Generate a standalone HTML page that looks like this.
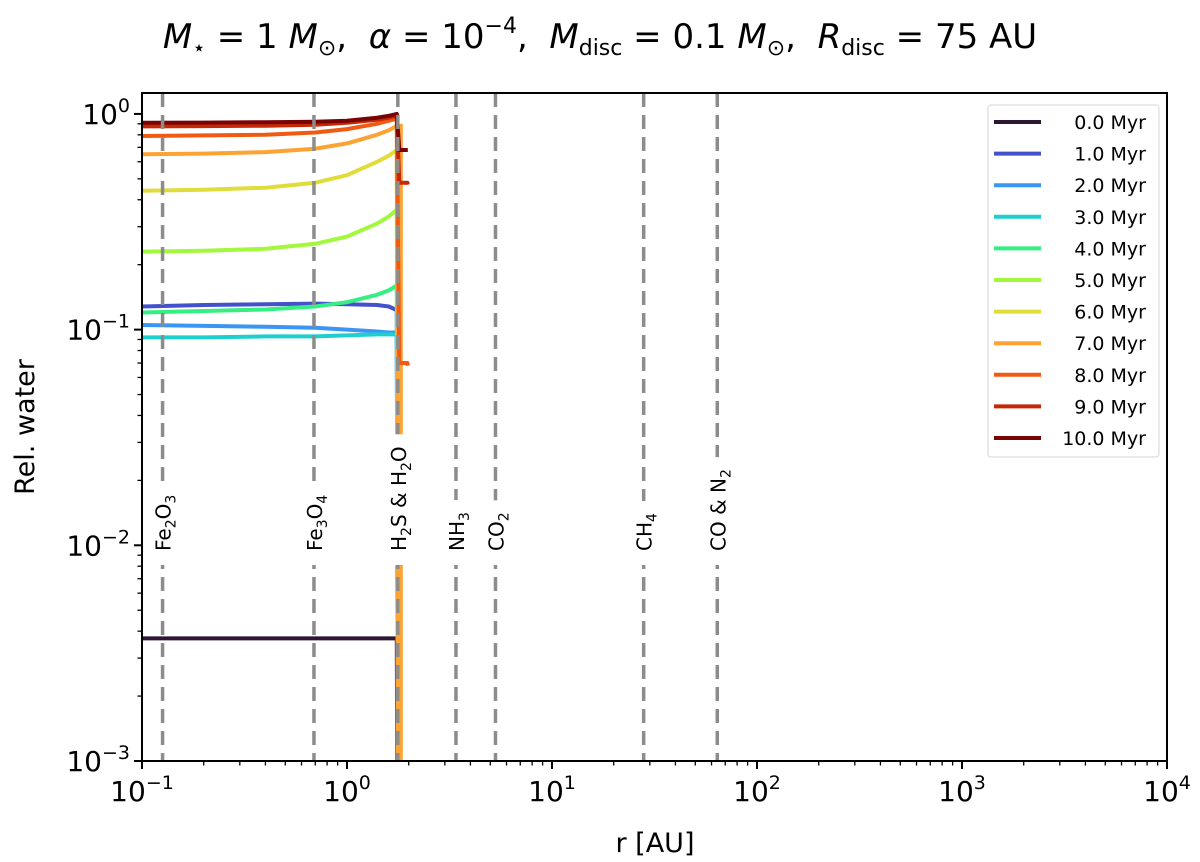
<!DOCTYPE html>
<html><head><meta charset="utf-8"><style>
html,body{margin:0;padding:0;background:#fff;overflow:hidden;width:1200px;height:862px}
svg{display:block}
svg text{font-family:"DejaVu Sans","Liberation Sans",sans-serif}
</style></head><body>
<svg id="chart" width="1200" height="862" viewBox="0 0 1200 862" xmlns="http://www.w3.org/2000/svg">
<defs><clipPath id="clip"><rect x="142" y="93" width="1025" height="668"/></clipPath></defs>
<text x="600" y="48" text-anchor="middle" font-size="34" xml:space="preserve"><tspan font-style="italic">M</tspan><tspan font-size="22" dy="7">⋆</tspan><tspan dy="-7"> = 1 </tspan><tspan font-style="italic">M</tspan><tspan font-size="22" dy="7">⊙</tspan><tspan dy="-7">,  </tspan><tspan font-style="italic">α</tspan><tspan> = 10</tspan><tspan font-size="22" dy="-15">−4</tspan><tspan dy="15">,  </tspan><tspan font-style="italic">M</tspan><tspan font-size="22" dy="7">disc</tspan><tspan dy="-7"> = 0.1 </tspan><tspan font-style="italic">M</tspan><tspan font-size="22" dy="7">⊙</tspan><tspan dy="-7">,  </tspan><tspan font-style="italic">R</tspan><tspan font-size="22" dy="7">disc</tspan><tspan dy="-7"> = 75 AU</tspan></text>
<g id="lines" clip-path="url(#clip)"></g>
<g id="snow"></g>
<g id="axes"></g>
<text x="655" y="852" text-anchor="middle" font-size="27">r [AU]</text>
<text transform="translate(34,427) rotate(-90)" text-anchor="middle" font-size="27">Rel. water</text>
<g id="legend"></g>
</svg>
<script>
const rGrid=[0.1,0.2,0.4,0.7,1.0,1.4,1.6,1.75,1.8,1.97,1.98];
const seriesLabels=["0.0 Myr","1.0 Myr","2.0 Myr","3.0 Myr","4.0 Myr","5.0 Myr","6.0 Myr","7.0 Myr","8.0 Myr","9.0 Myr","10.0 Myr"];
const seriesColors=["#2d1633","#4352cc","#3a96f5","#1fcfd0","#35ef82","#a2f83a","#e0dc3a","#fda333","#f05a12","#c42806","#7a0403"];
const v0=[0.0037,0.0037,0.0037,0.0037,0.0037,0.0037,0.0037,0.0037,1e-6,1e-6,1e-6];
const v1=[0.128,0.13,0.131,0.132,0.131,0.13,0.128,0.123,1e-6,1e-6,1e-6];
const v2=[0.105,0.104,0.103,0.102,0.1,0.098,0.097,0.097,1e-6,1e-6,1e-6];
const v3=[0.092,0.092,0.093,0.093,0.094,0.095,0.095,0.095,1e-6,1e-6,1e-6];
const v4=[0.12,0.122,0.124,0.128,0.134,0.145,0.152,0.16,1e-6,1e-6,1e-6];
const v5=[0.23,0.232,0.237,0.25,0.27,0.31,0.335,0.36,1e-6,1e-6,1e-6];
const v6=[0.44,0.445,0.455,0.48,0.52,0.6,0.64,0.68,1e-6,1e-6,1e-6];
const v7=[0.65,0.655,0.665,0.69,0.73,0.8,0.84,0.88,1e-6,1e-6,1e-6];
const v8=[0.79,0.795,0.8,0.82,0.85,0.9,0.93,0.95,0.07,0.07,0.068];
const v9=[0.875,0.878,0.882,0.89,0.91,0.94,0.96,0.98,0.48,0.48,0.47];
const v10=[0.91,0.912,0.915,0.92,0.93,0.96,0.98,1.0,0.68,0.68,0.68];
const seriesValues=[v0,v1,v2,v3,v4,v5,v6,v7,v8,v9,v10];
const snowR=[0.126,0.69,1.77,3.4,5.3,28,64];
const snowLabels=[["Fe","2","O","3"],["Fe","3","O","4"],["H","2","S & H","2","O"],["NH","3"],["CO","2"],["CH","4"],["CO & N","2"]];
const xTicks=[-1,0,1,2,3,4];
const yTicks=[0,-1,-2,-3];

const NS="http://www.w3.org/2000/svg";
const X0=142,X1=1167,Y0=761,Y1=93;
const xMin=-1,xMax=4,yMin=-3,yMax=0.097;
const xs=r=>X0+(Math.log10(r)-xMin)/(xMax-xMin)*(X1-X0);
const ys=v=>Y0-(Math.log10(v)-yMin)/(yMax-yMin)*(Y0-Y1);
function mk(t,a,p){const e=document.createElementNS(NS,t);for(const k in a)e.setAttribute(k,a[k]);(p||document.getElementById('chart')).appendChild(e);return e;}

const lines=document.getElementById('lines');
// orange vertical drop band (visible in reference)
const band=mk('line',{x1:xs(1.82),x2:xs(1.82),y1:ys(0.9),y2:Y0+10,stroke:seriesColors[7],'stroke-width':5},lines);


seriesValues.forEach((vals,i)=>{
  let d=vals.map((v,j)=>(j?'L':'M')+xs(rGrid[j]).toFixed(1)+','+Math.min(2000,ys(v)).toFixed(1)).join(' ');
  const p=mk('path',{d:d,fill:'none',stroke:seriesColors[i],'stroke-width':4,'stroke-linejoin':'round'},lines);
  
  
});

const snow=document.getElementById('snow');
snowR.forEach((r,i)=>{
  const x=xs(r);
  const l=mk('line',{x1:x,x2:x,y1:Y1,y2:Y0,stroke:'#8c8c8c','stroke-width':3.5,'stroke-dasharray':'14,8'},snow);
  
  
});
snowR.forEach((r,i)=>{
  const x=xs(r);
  const parts=snowLabels[i];
  const t=mk('text',{transform:'translate('+(x+8)+',551) rotate(-90)','font-size':20},snow);
  
  
  parts.forEach((s,k)=>{const sp=mk('tspan',{},t);sp.textContent=s;if(k%2==1){sp.setAttribute('font-size',14);sp.setAttribute('dy',5);}else if(k>0){sp.setAttribute('dy',-5);}});
  const len=t.getComputedTextLength();
  const bg=mk('rect',{x:x-14,y:551-len-12,width:32,height:len+26,fill:'#fff'},snow);
  
  
  snow.insertBefore(bg,t);
});

const ax=document.getElementById('axes');
const fr=mk('rect',{x:X0,y:Y1,width:X1-X0,height:Y0-Y1,fill:'none',stroke:'#000','stroke-width':2},ax);


xTicks.forEach(e=>{
  const x=xs(Math.pow(10,e));
  mk('line',{x1:x,x2:x,y1:Y0,y2:Y0+8,stroke:'#000','stroke-width':2},ax);
  const t=mk('text',{x:x,y:Y0+40,'text-anchor':'middle','font-size':28},ax);
  
  
  t.innerHTML='10<tspan font-size="19" dy="-12">'+(e<0?'−'+(-e):e)+'</tspan>';
  if(e<4)for(let m=2;m<10;m++){const xm=xs(m*Math.pow(10,e));mk('line',{x1:xm,x2:xm,y1:Y0,y2:Y0+4.5,stroke:'#000','stroke-width':1.3},ax);}
});
yTicks.forEach(e=>{
  const y=ys(Math.pow(10,e));
  mk('line',{x1:X0-8,x2:X0,y1:y,y2:y,stroke:'#000','stroke-width':2},ax);
  const t=mk('text',{x:X0-12,y:y+10,'text-anchor':'end','font-size':28},ax);
  
  
  t.innerHTML='10<tspan font-size="19" dy="-12">'+(e<0?'−'+(-e):e)+'</tspan>';
  for(let m=2;m<10;m++){const v=m*Math.pow(10,e);if(ys(v)<Y1)break;const ym=ys(v);mk('line',{x1:X0-4.5,x2:X0,y1:ym,y2:ym,stroke:'#000','stroke-width':1.3},ax);}
});

const lg=document.getElementById('legend');
const lb=mk('rect',{x:988,y:105,width:171,height:352,fill:'#fff',stroke:'#ddd','stroke-width':1.2,rx:3},lg);


seriesLabels.forEach((s,i)=>{
  const y=122+i*31.6;
  const l=mk('line',{x1:994,x2:1041,y1:y,y2:y,stroke:seriesColors[i],'stroke-width':4},lg);
  
  
  const t=mk('text',{x:1146,y:y+7,'text-anchor':'end','font-size':19},lg);
  
  
  t.textContent=s;
});
</script>
</body></html>
